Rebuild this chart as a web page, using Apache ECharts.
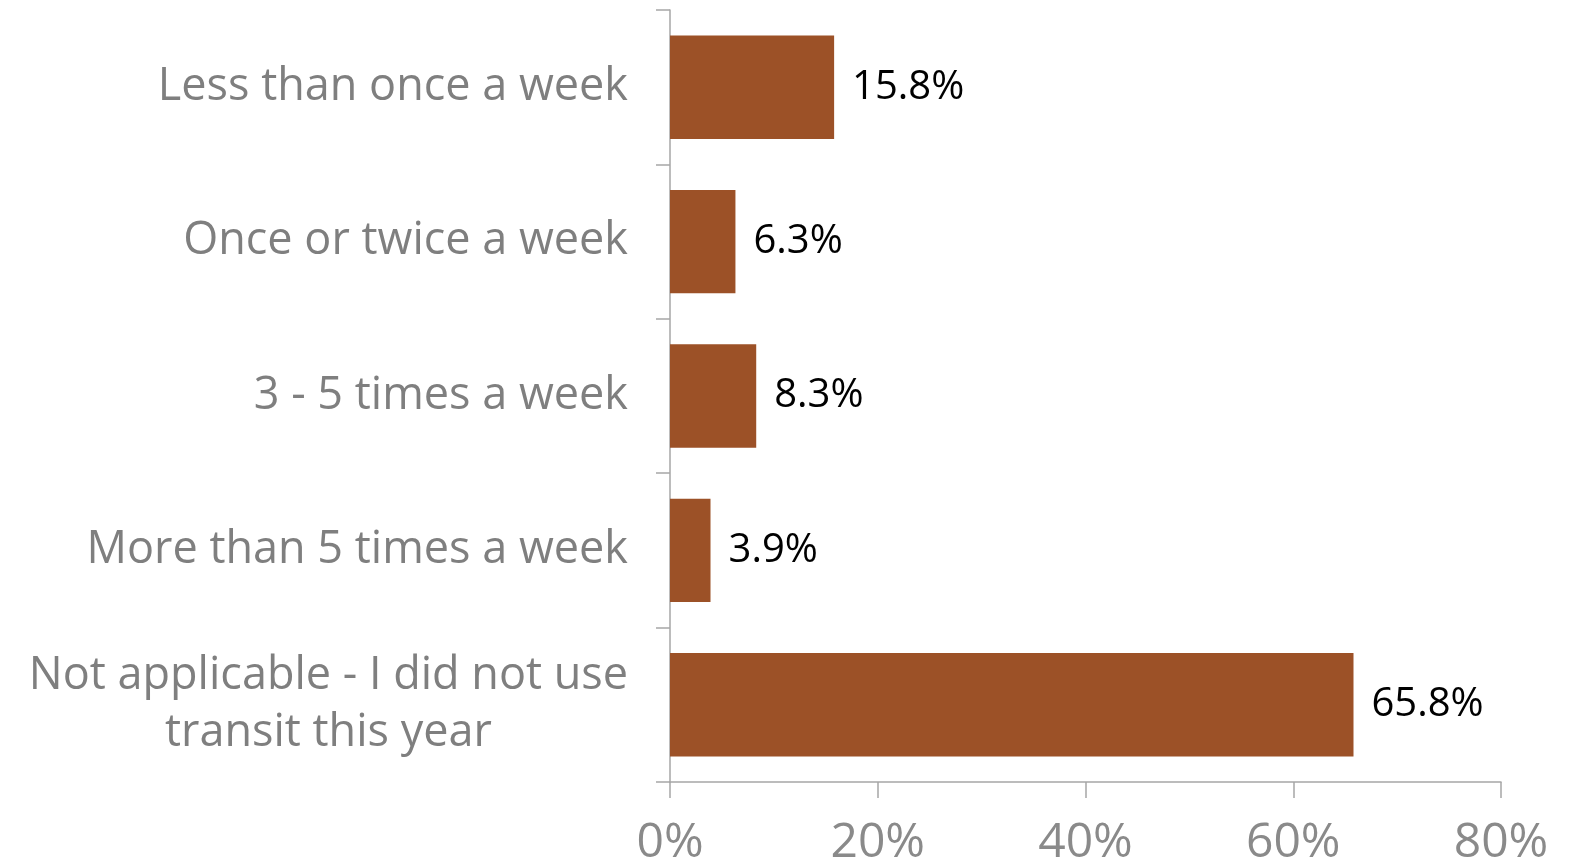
<!DOCTYPE html>
<html>
<head>
<meta charset="utf-8">
<script src="https://cdn.jsdelivr.net/npm/echarts@6/dist/echarts.min.js"></script>
<style>
    html, body { margin: 0; padding: 0; background: #fff; }
    #chart { width: 1580px; height: 867px; }
</style>
</head>
<body>
<div id="chart"></div>
<script>
    // categories, top to bottom
    var categories = [
        'Less than once a week',
        'Once or twice a week',
        '3 - 5 times a week',
        'More than 5 times a week',
        'Not applicable - I did not use\ntransit this year'
    ];
    // percent of respondents
    var values = [15.8, 6.3, 8.3, 3.9, 65.8];
    var xTicks = [0, 20, 40, 60, 80];

    var font = "'Open Sans', 'Noto Sans', sans-serif";
    var myChart = echarts.init(document.getElementById('chart'));

    myChart.setOption({
        animation: false,
        grid: {
            left: 670,
            right: 79,
            top: 10,
            bottom: 80
        },
        xAxis: {
            type: 'value',
            min: xTicks[0],
            max: xTicks[xTicks.length - 1],
            interval: 20,
            splitLine: { show: false },
            axisLine: { show: true, lineStyle: { color: '#a6a6a6', width: 1.5 } },
            axisTick: { show: true, length: 16, lineStyle: { color: '#a6a6a6', width: 1.5 } },
            axisLabel: {
                margin: 37,
                color: '#8a8a8a',
                fontFamily: font,
                fontSize: 48,
                formatter: '{value}%'
            }
        },
        yAxis: {
            type: 'category',
            inverse: true,
            data: categories,
            axisLine: { show: true, lineStyle: { color: '#a6a6a6', width: 1.5 } },
            axisTick: { show: true, length: 14, lineStyle: { color: '#a6a6a6', width: 1.5 } },
            axisLabel: {
                margin: 42,
                color: '#7f7f7f',
                fontFamily: font,
                fontSize: 45,
                lineHeight: 57,
                // center each line of the wrapped label
                formatter: function (v) {
                    return v.split('\n').map(function (s) { return '{c|' + s + '}'; }).join('\n');
                },
                rich: {
                    c: {
                        align: 'center',
                        color: '#7f7f7f',
                        fontFamily: font,
                        fontSize: 45,
                        lineHeight: 57
                    }
                }
            }
        },
        series: [{
            type: 'bar',
            data: values,
            barCategoryGap: '33%',
            itemStyle: { color: '#9c5127' },
            label: {
                show: true,
                position: 'right',
                distance: 18,
                color: '#000',
                fontFamily: font,
                fontSize: 40,
                formatter: function (p) { return p.value.toFixed(1) + '%'; }
            }
        }]
    });
</script>
</body>
</html>
